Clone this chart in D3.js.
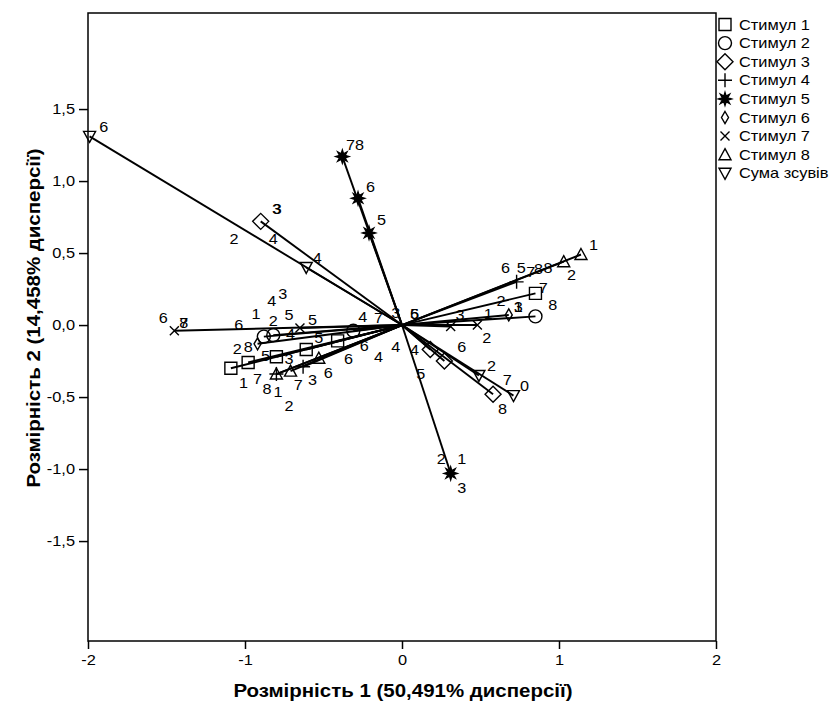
<!DOCTYPE html>
<html>
<head>
<meta charset="utf-8">
<script src="https://cdn.jsdelivr.net/npm/d3@7"></script>
<style>
  body { margin: 0; background: #fff; }
  svg { font-family: Arial, "Liberation Sans", sans-serif; }
  .axis line { stroke: #000; stroke-width: 1.5; }
  .axis text { font-size: 14px; fill: #000; }
</style>
</head>
<body>
<svg id="chart" width="837" height="706"></svg>
<script>
// DATA
const xTicks = [-2, -1, 0, 1, 2];
const yTicks = [-1.5, -1, -0.5, 0, 0.5, 1, 1.5];

const seriesNames = ["Стимул 1", "Стимул 2", "Стимул 3", "Стимул 4", "Стимул 5",
  "Стимул 6", "Стимул 7", "Стимул 8", "Сума зсувів"];
const seriesShapes = ["square", "circle", "diamond", "plus", "star",
  "thinDiamond", "cross", "triUp", "triDown"];

const stim1 = [[-1.09, -0.30], [-0.98, -0.26], [-0.80, -0.22], [-0.61, -0.17], [-0.41, -0.11], [0.85, 0.22]];
const stim2 = [[-0.88, -0.08], [-0.82, -0.07], [-0.31, -0.04], [0.85, 0.06]];
const stim3 = [[-0.90, 0.72], [0.18, -0.17], [0.27, -0.25], [0.58, -0.48]];
const stim4 = [[-0.80, -0.34], [-0.63, -0.29], [0.73, 0.30]];
const stim5 = [[-0.38, 1.17], [-0.28, 0.88], [-0.21, 0.64], [0.31, -1.03]];
const stim6 = [[-0.92, -0.13], [0.68, 0.07]];
const stim7 = [[-1.45, -0.04], [-0.65, -0.02], [0.31, -0.01], [0.48, 0.00]];
const stim8 = [[-0.80, -0.34], [-0.71, -0.32], [-0.53, -0.23], [1.03, 0.44], [1.14, 0.49]];
const sumShift = [[-1.99, 1.31], [-0.61, 0.40], [0.49, -0.35], [0.71, -0.49]];

const seriesPoints = [stim1, stim2, stim3, stim4, stim5, stim6, stim7, stim8, sumShift];

// point labels: [text, x, y]
const pointLabels = [
  ["6", -1.90, 1.38], ["2", -1.07, 0.60], ["4", -0.82, 0.60], ["3", -0.80, 0.81], ["3", -0.795, 0.81],
  ["4", -0.54, 0.47], ["78", -0.30, 1.25], ["6", -0.20, 0.96], ["5", -0.13, 0.73],
  ["4", -0.83, 0.17], ["3", -0.76, 0.22], ["1", -0.93, 0.08], ["5", -0.72, 0.07], ["2", -0.82, 0.03],
  ["5", -0.57, 0.04], ["6", -1.52, 0.05], ["7", -1.39, 0.02], ["8", -1.39, 0.02], ["6", -1.04, 0.00],
  ["2", -1.05, -0.16], ["8", -0.98, -0.15], ["4", -0.71, -0.06], ["5", -0.87, -0.21], ["3", -0.72, -0.23],
  ["5", -0.53, -0.09], ["1", -1.01, -0.40], ["7", -0.92, -0.37], ["8", -0.86, -0.44], ["1", -0.79, -0.46],
  ["7", -0.66, -0.41], ["3", -0.57, -0.38], ["2", -0.72, -0.56], ["6", -0.47, -0.33], ["6", -0.34, -0.23],
  ["6", -0.24, -0.14], ["4", -0.15, -0.22], ["4", -0.04, -0.15], ["4", 0.08, -0.17], ["4", -0.25, 0.06],
  ["7", -0.15, 0.05], ["3", -0.04, 0.09], ["5", 0.08, 0.08], ["6", 0.08, 0.08], ["5", 0.12, -0.34],
  ["6", 0.66, 0.40], ["5", 0.76, 0.40], ["7", 0.82, 0.37], ["8", 0.87, 0.39], ["8", 0.93, 0.40],
  ["1", 1.22, 0.56], ["2", 1.08, 0.35], ["7", 0.90, 0.26], ["8", 0.96, 0.14], ["2", 0.63, 0.17],
  ["3", 0.74, 0.13], ["1", 0.74, 0.13], ["3", 0.37, 0.07], ["1", 0.55, 0.08], ["2", 0.54, -0.09],
  ["6", 0.38, -0.15], ["2", 0.57, -0.28], ["7", 0.67, -0.38], ["0", 0.78, -0.42], ["8", 0.64, -0.58],
  ["2", 0.25, -0.93], ["1", 0.38, -0.93], ["3", 0.38, -1.13]
];

// LAYOUT
const plot = { left: 88, right: 716, top: 13, bottom: 641 };
const stretch = 1.17; // the source picture is stretched horizontally

const svg = d3.select("#chart");

const x = d3.scaleLinear().domain([-2, 2]).range([plot.left, plot.right]);
const y = d3.scaleLinear().domain([-2.194, 2.167]).range([plot.bottom, plot.top]);

// MARKERS
function markerPath(shape) {
  const p = d3.path();
  if (shape === "square") {
    p.rect(-6, -6, 12, 12);
  } else if (shape === "circle") {
    p.moveTo(6.5, 0); p.arc(0, 0, 6.5, 0, 2 * Math.PI);
  } else if (shape === "diamond") {
    p.moveTo(0, -8); p.lineTo(8, 0); p.lineTo(0, 8); p.lineTo(-8, 0); p.closePath();
  } else if (shape === "thinDiamond") {
    p.moveTo(0, -6); p.lineTo(3.5, 0); p.lineTo(0, 6); p.lineTo(-3.5, 0); p.closePath();
  } else if (shape === "plus") {
    p.moveTo(-7, 0); p.lineTo(7, 0); p.moveTo(0, -7); p.lineTo(0, 7);
  } else if (shape === "cross") {
    p.moveTo(-4.5, -4.5); p.lineTo(4.5, 4.5); p.moveTo(-4.5, 4.5); p.lineTo(4.5, -4.5);
  } else if (shape === "triUp") {
    p.moveTo(0, -6); p.lineTo(6, 5); p.lineTo(-6, 5); p.closePath();
  } else if (shape === "triDown") {
    p.moveTo(0, 6); p.lineTo(6, -5); p.lineTo(-6, -5); p.closePath();
  } else if (shape === "star") {
    for (let i = 0; i < 16; i++) {
      const r = i % 2 === 0 ? 6.5 : 3;
      const a = i * Math.PI / 8 - Math.PI / 2;
      i === 0 ? p.moveTo(r * Math.cos(a), r * Math.sin(a)) : p.lineTo(r * Math.cos(a), r * Math.sin(a));
    }
    p.closePath();
  }
  return p.toString();
}

function drawMarker(g, shape) {
  g.append("path")
    .attr("d", markerPath(shape))
    .attr("fill", shape === "star" ? "#000" : "none")
    .attr("stroke", "#000")
    .attr("stroke-width", 1.4);
}

// FRAME + AXES
svg.append("rect")
  .attr("x", plot.left).attr("y", plot.top)
  .attr("width", plot.right - plot.left).attr("height", plot.bottom - plot.top)
  .attr("fill", "none").attr("stroke", "#000").attr("stroke-width", 1.5);

const xAxis = svg.append("g")
  .attr("class", "axis")
  .attr("transform", `translate(0,${plot.bottom})`)
  .call(d3.axisBottom(x).tickValues(xTicks).tickSize(8).tickSizeOuter(0).tickPadding(6)
    .tickFormat(d => String(d)));

const yAxis = svg.append("g")
  .attr("class", "axis")
  .attr("transform", `translate(${plot.left},0)`)
  .call(d3.axisLeft(y).tickValues(yTicks).tickSize(9).tickSizeOuter(0)
    .tickFormat(d => d.toFixed(1).replace(".", ",")));

svg.selectAll(".axis .domain").remove();
xAxis.selectAll("text").attr("transform", `scale(${stretch},1)`);
yAxis.selectAll("text")
  .attr("x", -13 / stretch)
  .attr("transform", `scale(${stretch},1)`);

svg.append("text")
  .attr("transform", `translate(${(plot.left + plot.right) / 2 + 1},697) scale(${stretch},1)`)
  .attr("text-anchor", "middle")
  .attr("font-size", 17.5).attr("font-weight", "bold")
  .text("Розмірність 1 (50,491% дисперсії)");

svg.append("text")
  .attr("transform", `translate(40,318) rotate(-90) scale(${stretch},1)`)
  .attr("text-anchor", "middle")
  .attr("font-size", 17.5).attr("font-weight", "bold")
  .text("Розмірність 2 (14,458% дисперсії)");

// VECTORS
const vectors = svg.append("g").attr("class", "vectors");
seriesPoints.forEach(pts => {
  vectors.selectAll(null)
    .data(pts)
    .join("line")
    .attr("x1", x(0)).attr("y1", y(0))
    .attr("x2", d => x(d[0])).attr("y2", d => y(d[1]))
    .attr("stroke", "#000").attr("stroke-width", 1.9);
});

// MARKERS
seriesPoints.forEach((pts, i) => {
  svg.append("g")
    .selectAll("g")
    .data(pts)
    .join("g")
    .attr("transform", d => `translate(${x(d[0])},${y(d[1])})`)
    .each(function () { drawMarker(d3.select(this), seriesShapes[i]); });
});

// LABELS
svg.append("g")
  .selectAll("text")
  .data(pointLabels)
  .join("text")
  .attr("transform", d => `translate(${x(d[1])},${y(d[2])}) scale(1.08,1)`)
  .attr("dy", "0.36em")
  .attr("text-anchor", "middle")
  .attr("font-size", 15)
  .text(d => d[0]);

// LEGEND
const legend = svg.append("g").attr("transform", "translate(725,24.5)");
const items = legend.selectAll("g")
  .data(seriesNames)
  .join("g")
  .attr("transform", (d, i) => `translate(0,${i * 18.6})`);

items.each(function (d, i) { drawMarker(d3.select(this), seriesShapes[i]); });

items.append("text")
  .attr("transform", `translate(14,0) scale(${stretch},1)`)
  .attr("dy", "0.36em")
  .attr("font-size", 14)
  .text(d => d);
</script>
</body>
</html>
